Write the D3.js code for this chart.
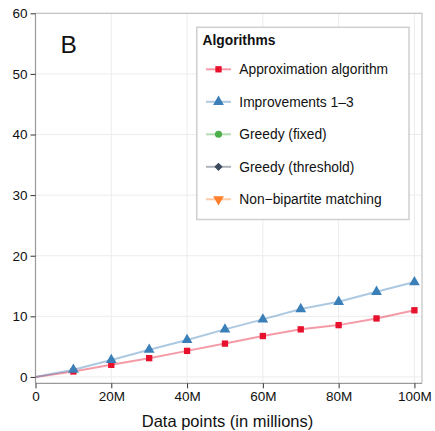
<!DOCTYPE html>
<html>
<head>
<meta charset="utf-8">
<script src="https://cdn.jsdelivr.net/npm/d3@7"></script>
<style>
  html, body { margin: 0; padding: 0; background: #fff; }
  svg { display: block; font-family: "Liberation Sans", Arial, Helvetica, sans-serif; }
</style>
</head>
<body>
<svg id="chart" width="435" height="431"></svg>
<script>
// Data points in millions, runtime values per algorithm
const dataPoints = [0, 10, 20, 30, 40, 50, 60, 70, 80, 90, 100];
const approximation = [0, 0.9, 2.0, 3.1, 4.3, 5.5, 6.75, 7.85, 8.55, 9.65, 11.0];
const improvements = [0, 1.2, 2.8, 4.5, 6.1, 7.85, 9.5, 11.2, 12.4, 14.05, 15.65];
const greedyFixed = [];
const greedyThreshold = [];
const nonBipartite = [];

const xTicks = [0, 20, 40, 60, 80, 100];
const xTickLabels = ["0", "20M", "40M", "60M", "80M", "100M"];
const yTicks = [0, 10, 20, 30, 40, 50, 60];

const seriesNames = ["Approximation algorithm", "Improvements 1\u20133", "Greedy (fixed)", "Greedy (threshold)", "Non\u2212bipartite matching"];
const seriesValues = [approximation, improvements, greedyFixed, greedyThreshold, nonBipartite];
const seriesColors = ["#e8112d", "#3a7fb8", "#4daf4a", "#3b4a5e", "#ff7f2a"];
const seriesShapes = ["square", "tri-up", "circle", "diamond", "tri-down"];

const svg = d3.select("#chart");
const W = 435, H = 431;
const margin = { left: 35.5, right: 13, top: 13.3, bottom: 47.7 };
const x = d3.scaleLinear().domain([0, 102]).range([margin.left, W - margin.right]);
const y = d3.scaleLinear().domain([-1.05, 60]).range([H - margin.bottom, margin.top]);

// Marker path and orientation for each shape name
function marker(shape) {
  switch (shape) {
    case "square": return { d: d3.symbol().type(d3.symbolSquare).size(40)(), rot: 0 };
    case "tri-up": return { d: d3.symbol().type(d3.symbolTriangle).size(50)(), rot: 0 };
    case "tri-down": return { d: d3.symbol().type(d3.symbolTriangle).size(50)(), rot: 180 };
    case "circle": return { d: d3.symbol().type(d3.symbolCircle).size(40)(), rot: 0 };
    case "diamond": return { d: d3.symbol().type(d3.symbolSquare).size(34)(), rot: 45 };
  }
}

// Panel background and grid
const panel = svg.append("g");
panel.append("rect")
  .attr("x", margin.left).attr("y", margin.top)
  .attr("width", W - margin.right - margin.left)
  .attr("height", H - margin.bottom - margin.top)
  .attr("fill", "#fff");

panel.selectAll("line.gx").data(xTicks).join("line")
  .attr("x1", d => x(d)).attr("x2", d => x(d))
  .attr("y1", margin.top).attr("y2", H - margin.bottom)
  .attr("stroke", "#ececec").attr("stroke-width", 1);
panel.selectAll("line.gy").data(yTicks).join("line")
  .attr("x1", margin.left).attr("x2", W - margin.right)
  .attr("y1", d => y(d)).attr("y2", d => y(d))
  .attr("stroke", "#ececec").attr("stroke-width", 1);

// Panel border (top and right)
svg.append("path")
  .attr("d", `M${margin.left},${margin.top}H${W - margin.right}V${H - margin.bottom}`)
  .attr("fill", "none").attr("stroke", "#c4c4c4").attr("stroke-width", 1.2);

// Series lines and markers
const line = d3.line().x((d, i) => x(dataPoints[i])).y(d => y(d));
seriesValues.forEach((vals, s) => {
  if (!vals.length) return;
  svg.append("path")
    .attr("d", line(vals))
    .attr("fill", "none")
    .attr("stroke", seriesColors[s])
    .attr("stroke-opacity", 0.42)
    .attr("stroke-width", 2);
});
seriesValues.forEach((vals, s) => {
  if (!vals.length) return;
  const m = marker(seriesShapes[s]);
  svg.append("g").selectAll("path")
    .data(vals.map((v, i) => [dataPoints[i], v]).filter(d => d[0] > 0))
    .join("path")
    .attr("d", m.d)
    .attr("transform", d => `translate(${x(d[0])},${y(d[1])}) rotate(${m.rot})`)
    .attr("fill", seriesColors[s]);
});

// Axes
const xAxis = d3.axisBottom(x).tickValues(xTicks)
  .tickFormat((d, i) => xTickLabels[i]).tickSize(5).tickPadding(3);
const yAxis = d3.axisLeft(y).tickValues(yTicks).tickSize(5).tickPadding(3);

const gx = svg.append("g").attr("transform", `translate(0,${H - margin.bottom})`).call(xAxis);
const gy = svg.append("g").attr("transform", `translate(${margin.left},0)`).call(yAxis);
[gx, gy].forEach(g => {
  g.select(".domain").attr("stroke", "#9a9a9a").attr("stroke-width", 1.2);
  g.selectAll(".tick line").attr("stroke", "#333").attr("stroke-width", 1);
  g.selectAll(".tick text").attr("fill", "#111")
    .style("font-size", "13.5px").style("font-family", "'Liberation Sans', Arial, sans-serif");
});
gy.select(".domain").attr("d", `M0,${margin.top}V${H - margin.bottom}`);
gx.select(".domain").attr("d", `M${margin.left},0H${W - margin.right}`);

// Axis title
svg.append("text")
  .attr("x", 227.5)
  .attr("y", 427)
  .attr("text-anchor", "middle")
  .attr("fill", "#111")
  .style("font-size", "16.5px")
  .text("Data points (in millions)");

// Panel letter
svg.append("text")
  .attr("x", 60.5).attr("y", 52.7)
  .attr("fill", "#111")
  .style("font-size", "24.5px")
  .text("B");

// Legend
const lg = svg.append("g");
lg.append("rect")
  .attr("x", 196.8).attr("y", 27.3)
  .attr("width", 409 - 196.8).attr("height", 219.5 - 27.3)
  .attr("fill", "#fff").attr("stroke", "#cfcfcf").attr("stroke-width", 1.5);
lg.append("text")
  .attr("x", 202.5).attr("y", 44.5)
  .attr("fill", "#111")
  .style("font-size", "13.8px").style("font-weight", "bold")
  .text("Algorithms");
seriesNames.forEach((name, i) => {
  const cy = 69.3 + i * 32.5;
  const m = marker(seriesShapes[i]);
  lg.append("line")
    .attr("x1", 206).attr("x2", 231).attr("y1", cy).attr("y2", cy)
    .attr("stroke", seriesColors[i]).attr("stroke-opacity", 0.42).attr("stroke-width", 2);
  lg.append("path")
    .attr("d", m.d)
    .attr("transform", `translate(218.5,${cy}) rotate(${m.rot})`)
    .attr("fill", seriesColors[i]);
  lg.append("text")
    .attr("x", 239.3).attr("y", cy + 4.9)
    .attr("fill", "#111")
    .style("font-size", "13.8px")
    .text(name);
});
</script>
</body>
</html>
